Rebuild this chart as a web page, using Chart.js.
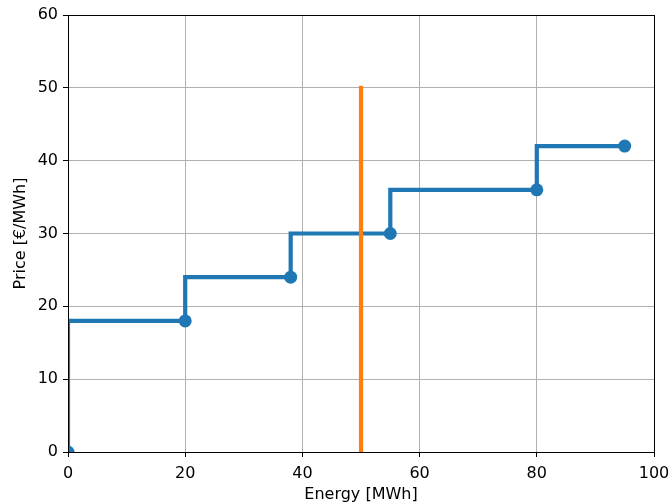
<!DOCTYPE html>
<html>
<head>
<meta charset="utf-8">
<script src="https://cdn.jsdelivr.net/npm/chart.js@4"></script>
<style>
  html, body { margin: 0; padding: 0; background: #fff; }
  #wrap { width: 670px; height: 503px; }
</style>
</head>
<body>
<div id="wrap"><canvas id="supplyChart" width="670" height="503"></canvas></div>
<script>
// Curva de oferta (escalones) y demanda fija
const energyPoints = [0, 20, 38, 55, 80, 95];   // MWh
const pricePoints = [0, 18, 24, 30, 36, 42];    // €/MWh
const demandX = [50, 50];
const demandY = [0, 50];
const xTicks = [0, 20, 40, 60, 80, 100];
const yTicks = [0, 10, 20, 30, 40, 50, 60];

const supplyData = energyPoints.map((x, i) => ({ x: x, y: pricePoints[i] }));
const demandData = demandX.map((x, i) => ({ x: x, y: demandY[i] }));

const fontFamily = '"DejaVu Sans", sans-serif';

// Marco negro alrededor del área del gráfico
const framePlugin = {
  id: 'frame',
  afterDraw(chart) {
    const { ctx, chartArea: a } = chart;
    ctx.save();
    ctx.strokeStyle = '#000';
    ctx.lineWidth = 1;
    ctx.strokeRect(Math.round(a.left) + 0.5, Math.round(a.top) + 0.5,
      Math.round(a.right - a.left), Math.round(a.bottom - a.top));
    ctx.restore();
  }
};

new Chart(document.getElementById('supplyChart'), {
  type: 'scatter',
  data: {
    datasets: [
      {
        label: 'Supply',
        data: supplyData,
        showLine: true,
        stepped: 'after',
        borderColor: '#1f77b4',
        backgroundColor: '#1f77b4',
        borderWidth: 4.2,
        pointRadius: 6.5,
        pointBorderWidth: 0,
        pointBackgroundColor: '#1f77b4',
        borderJoinStyle: 'miter',
        clip: 0,
        order: 1
      },
      {
        label: 'Demand',
        data: demandData,
        showLine: true,
        borderColor: '#ff7f0e',
        backgroundColor: '#ff7f0e',
        borderWidth: 4.2,
        borderCapStyle: 'square',
        pointRadius: 0,
        clip: 0,
        order: 0
      }
    ]
  },
  options: {
    responsive: false,
    animation: false,
    layout: { padding: { top: 15, right: 16, left: 0, bottom: 0 } },
    plugins: {
      legend: { display: false },
      tooltip: { enabled: false }
    },
    scales: {
      x: {
        type: 'linear',
        min: 0,
        max: 100,
        afterBuildTicks: s => { s.ticks = xTicks.map(v => ({ value: v })); },
        afterFit: s => { s.height = 51; s.paddingLeft = 0; s.paddingRight = 0; },
        border: { display: false },
        grid: { color: '#b0b0b0', lineWidth: 1, tickColor: '#000', tickLength: 5, tickWidth: 1 },
        ticks: { color: '#000', font: { family: fontFamily, size: 16 }, padding: 7, maxRotation: 0 },
        title: { display: true, text: 'Energy [MWh]', color: '#000', font: { family: fontFamily, size: 16 }, padding: { top: 0, bottom: -1 } }
      },
      y: {
        type: 'linear',
        min: 0,
        max: 60,
        afterBuildTicks: s => { s.ticks = yTicks.map(v => ({ value: v })); },
        afterFit: s => { s.width = 68; s.paddingTop = 0; s.paddingBottom = 0; },
        border: { display: false },
        grid: { color: '#b0b0b0', lineWidth: 1, tickColor: '#000', tickLength: 5, tickWidth: 1 },
        ticks: { color: '#000', font: { family: fontFamily, size: 16 }, padding: 5 },
        title: { display: true, text: 'Price [€/MWh]', color: '#000', font: { family: fontFamily, size: 16 }, padding: { top: 11, bottom: 0 } }
      }
    }
  },
  plugins: [framePlugin]
});
</script>
</body>
</html>
